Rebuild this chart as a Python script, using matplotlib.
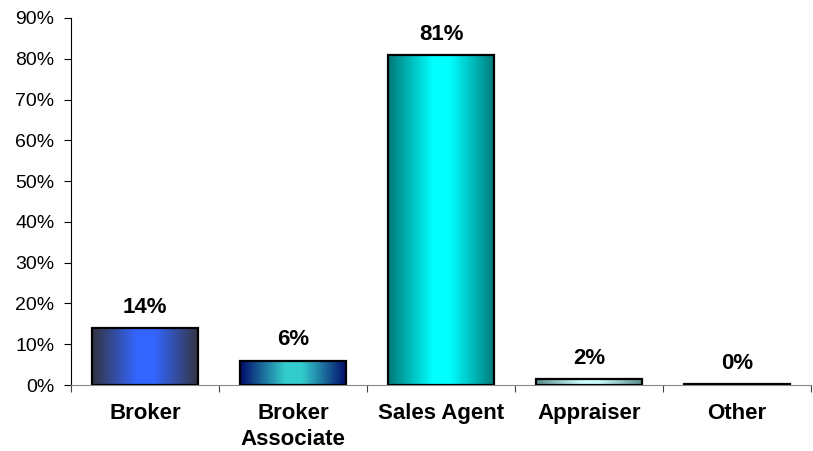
import numpy as np
import matplotlib
matplotlib.use('Agg')
import matplotlib.pyplot as plt
from matplotlib.colors import LinearSegmentedColormap

plt.rcParams['font.family'] = ['Liberation Sans', 'DejaVu Sans']

categories = ['Broker', 'Broker\nAssociate', 'Sales Agent', 'Appraiser', 'Other']
values = [14, 6, 81, 1.5, 0.2]
labels = ['14%', '6%', '81%', '2%', '0%']
# edge colour, centre colour of each bar's gradient
edge_cols = ['#34343f', '#020a6a', '#007878', '#5a8a8a', '#000000']
mid_cols = ['#3366ff', '#33cccc', '#00ffff', '#ccffff', '#000000']

fig = plt.figure(figsize=(8.13, 4.51), dpi=100)
ax = fig.add_axes([71/813, 1-385/451, 740/813, 367/451])

x = np.arange(len(categories))
w = 0.72
bars = ax.bar(x, values, width=w, color='none', edgecolor='black', linewidth=1.6, zorder=3)

grad = np.linspace(0, 1, 256).reshape(1, -1)
for b, c0, c1 in zip(bars, edge_cols, mid_cols):
    cmap = LinearSegmentedColormap.from_list('g', [(0, c0), (0.42, c1), (0.58, c1), (1, c0)], N=256)
    x0, y0 = b.get_x(), b.get_y()
    im = ax.imshow(grad, cmap=cmap, aspect='auto', zorder=2,
                   extent=[x0, x0 + b.get_width(), y0, y0 + b.get_height()])
    im.set_clip_path(b)

for xi, v, lab in zip(x, values, labels):
    ax.text(xi, v + 2.5, lab, ha='center', va='bottom', fontsize=16, fontweight='bold')

ax.set_xlim(-0.5, len(categories) - 0.5)
ax.set_ylim(0, 90)
ax.set_yticks(np.arange(0, 91, 10))
ax.set_yticklabels([f'{t}%' for t in range(0, 91, 10)], fontsize=14)
ax.set_xticks(np.arange(len(categories) + 1) - 0.5)
ax.set_xticklabels([])
ax.set_xticks(x, minor=True)
ax.set_xticklabels(categories, minor=True, fontsize=16, fontweight='bold', linespacing=1.3)
ax.tick_params(axis='x', which='minor', length=0, pad=13)
ax.tick_params(axis='x', which='major', length=5, color='#444444')
ax.tick_params(axis='y', length=5, pad=7)

ax.spines['top'].set_visible(False)
ax.spines['right'].set_visible(False)
ax.spines['bottom'].set_color('#888888')

fig.savefig('out.png', dpi=100)
